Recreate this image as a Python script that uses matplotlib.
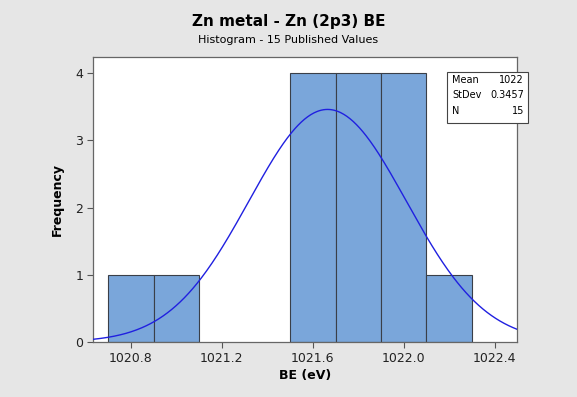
import numpy as np
import matplotlib
matplotlib.use("Agg")
import matplotlib.pyplot as plt
from matplotlib.patches import Rectangle

# Data
bin_left = [1020.7, 1020.9, 1021.1, 1021.3, 1021.5, 1021.7, 1021.9, 1022.1]
counts = [1, 1, 0, 0, 4, 4, 4, 1]
bin_width = 0.2
mean_val = 1021.665
stdev = 0.3457
n_vals = 15
xticks = [1020.8, 1021.2, 1021.6, 1022.0, 1022.4]
yticks = [0, 1, 2, 3, 4]

plt.rcParams['font.family'] = ['DejaVu Sans']
fig = plt.figure(figsize=(5.77, 3.97), dpi=100)
fig.patch.set_facecolor('#e6e6e6')
ax = fig.add_axes([0.161, 0.1385, 0.735, 0.7175])
ax.set_facecolor('white')

bl = [b for b, c in zip(bin_left, counts) if c > 0]
bc = [c for c in counts if c > 0]
ax.bar(bl, bc, width=bin_width, align='edge', color='#7aa6da',
       edgecolor='#3a3f48', linewidth=0.8, zorder=2)

xs = np.linspace(1020.633, 1022.498, 400)
ys = n_vals * bin_width / (stdev * np.sqrt(2 * np.pi)) * np.exp(-0.5 * ((xs - mean_val) / stdev) ** 2)
ax.plot(xs, ys, color='#2020e0', linewidth=1.0, zorder=3)

ax.set_xlim(1020.633, 1022.498)
ax.set_ylim(0, 4.24)
ax.set_xticks(xticks)
ax.set_xticklabels([f"{t:.1f}" for t in xticks])
ax.set_yticks(yticks)
ax.tick_params(direction='out', length=4, width=0.8, colors='#555555',
               labelcolor='#222222', labelsize=9, pad=3)
for s in ax.spines.values():
    s.set_color('#666666')
    s.set_linewidth(0.9)

ax.set_xlabel('BE (eV)', fontsize=9, fontweight='bold', labelpad=3)
ax.set_ylabel('Frequency', fontsize=9, fontweight='bold', labelpad=8)

fig.text(0.5, 0.945, 'Zn metal - Zn (2p3) BE', ha='center', va='center',
         fontsize=11, fontweight='bold')
fig.text(0.5, 0.9, 'Histogram - 15 Published Values', ha='center', va='center',
         fontsize=8)

# stats box
bx0, by0 = 447 / 577, 1 - 123 / 397
bw, bh = 81 / 577, 51 / 397
fig.patches.append(Rectangle((bx0, by0), bw, bh, transform=fig.transFigure,
                             facecolor='white', edgecolor='#444444', linewidth=0.8,
                             zorder=5))
labels = ['Mean', 'StDev', 'N']
vals = ['1022', f'{stdev}', f'{n_vals}']
for i, (l, v) in enumerate(zip(labels, vals)):
    yy = 1 - (80 + i * 15.5) / 397
    fig.text(bx0 + 5 / 577, yy, l, fontsize=7, ha='left', va='center', zorder=6)
    fig.text(bx0 + bw - 4 / 577, yy, v, fontsize=7, ha='right', va='center', zorder=6)

fig.savefig('out.png', dpi=100, facecolor=fig.get_facecolor())
